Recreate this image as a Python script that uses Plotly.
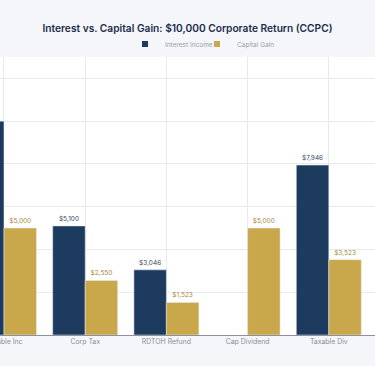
import plotly.graph_objects as go

categories = ["Taxable Inc", "Corp Tax", "RDTOH Refund", "Cap Dividend", "Taxable Div"]
interest_income = [10000, 5100, 3046, None, 7946]
capital_gain = [5000, 2550, 1523, 5000, 3523]

NAVY = "#1d3a5f"
GOLD = "#c9a84b"


def fmt(vals):
    return ["" if v is None else f"${v:,.0f}" for v in vals]


fig = go.Figure()
fig.add_trace(go.Bar(
    name="Interest Income", x=categories, y=interest_income,
    marker_color=NAVY, text=fmt(interest_income), textposition="outside",
    textfont=dict(size=6.5, color="#3a4a63"), cliponaxis=False, showlegend=False,
))
fig.add_trace(go.Bar(
    name="Capital Gain", x=categories, y=capital_gain,
    marker_color=GOLD, text=fmt(capital_gain), textposition="outside",
    textfont=dict(size=6.5, color="#a8873a"), cliponaxis=False, showlegend=False,
))
# legend entries with small square symbols
fig.add_trace(go.Scatter(x=[None], y=[None], mode="markers", name="Interest Income",
                         marker=dict(symbol="square", size=6, color=NAVY), legend="legend"))
fig.add_trace(go.Scatter(x=[None], y=[None], mode="markers", name="Capital Gain",
                         marker=dict(symbol="square", size=6, color=GOLD), legend="legend2"))

leg_common = dict(orientation="h", xref="paper", yref="paper", xanchor="left",
                  y=1 + 13 / 278, yanchor="middle",
                  font=dict(size=6.5, color="#9a9ea6"), bgcolor="rgba(0,0,0,0)")

fig.update_layout(
    width=375, height=366,
    margin=dict(l=0, r=0, t=57, b=31, autoexpand=False),
    paper_bgcolor="#f4f6f9",
    plot_bgcolor="#ffffff",
    font=dict(family="Inter, Roboto, sans-serif", color="#8a8f98", size=7),
    title=dict(text="Interest vs. Capital Gain: $10,000 Corporate Return (CCPC)",
               x=0.5, xanchor="center", y=1 - 28 / 366, yanchor="middle",
               font=dict(size=10.2, color="#1e2d4a", family="Inter, sans-serif", weight=600)),
    legend=dict(x=125 / 375, **leg_common),
    legend2=dict(x=197 / 375, **leg_common),
    barmode="group", bargap=0.2, bargroupgap=0,
    xaxis=dict(range=[-0.049, 4.569], showgrid=True, gridcolor="#e8eaee", automargin=False,
               showline=True, linecolor="#8d9199", linewidth=1, ticks="",
               tickfont=dict(size=6.9, color="#8a8f98"), zeroline=False),
    yaxis=dict(range=[0, 13000], dtick=2000, showgrid=True, gridcolor="#e8eaee", automargin=False,
               showticklabels=False, zeroline=False, showline=False),
)

fig.write_html("out.html", config={"displayModeBar": False},
               post_script="document.body.style.margin='0';")
